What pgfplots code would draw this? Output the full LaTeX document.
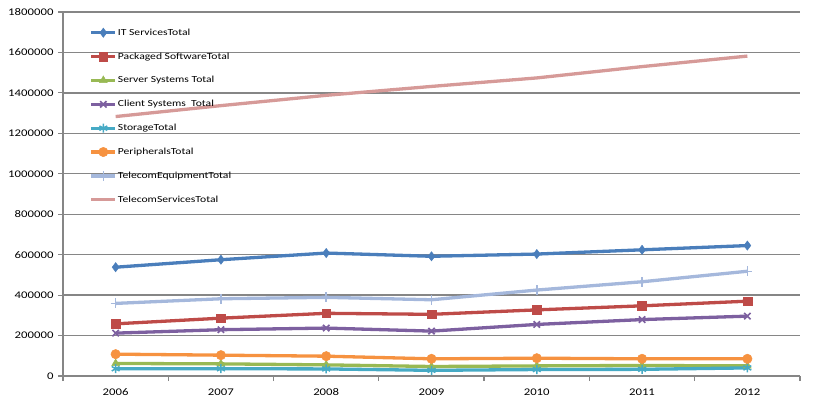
\documentclass[border=0pt]{standalone}
\usepackage{pgfplots}
\pgfplotsset{compat=1.18}
\usepackage{fontspec}
\setmainfont{Carlito}[FakeStretch=1.25]
\definecolor{c1}{HTML}{4A7EBB}
\definecolor{c2}{HTML}{BE4B48}
\definecolor{c3}{HTML}{98B954}
\definecolor{c4}{HTML}{7D60A0}
\definecolor{c5}{HTML}{46AAC5}
\definecolor{c6}{HTML}{F69240}
\definecolor{c7}{HTML}{A5B8DC}
\definecolor{c8}{HTML}{D69A98}
\definecolor{gridgray}{HTML}{868686}
\begin{document}
\begin{tikzpicture}
\path[use as bounding box] (-63pt,-37pt) rectangle (772pt,376pt);
\begin{axis}[
  at={(0,0)}, anchor=south west,
  scale only axis, width=737pt, height=364pt,
  xmin=2005.5, xmax=2012.5,
  ymin=0, ymax=1800000,
  xtick={2006,...,2012},
  major x tick style={draw=none},
  minor xtick={2005.5,2006.5,...,2012.5},
  minor x tick style={gridgray, line width=1.2pt},
  minor tick length=5pt,
  ytick={0,200000,...,1800000},
  major y tick style={gridgray, line width=1.2pt},
  major tick length=5pt,
  tick align=outside,
  axis lines*=left,
  axis line style={gridgray, line width=1.5pt},
  ymajorgrids,
  major grid style={gridgray, line width=1.3pt},
  scaled y ticks=false,
  /pgf/number format/.cd, fixed, precision=0, 1000 sep={}, assume math mode=true, /pgfplots/.cd,
  tick label style={font=\fontsize{10.2}{11}\selectfont, black},
  yticklabel style={xshift=-1pt},
  xticklabel style={yshift=-4pt},
  legend cell align=left,
  legend style={draw=none, fill=none, at={(rel axis cs:0.036,0.96)}, anchor=north west,
    font=\fontsize{9.3}{10}\selectfont, row sep=11.9pt, inner sep=0pt,
    nodes={inner xsep=1pt}},
  legend image code/.code={\draw[mark repeat=2,mark phase=2] plot coordinates {(0cm,0cm) (0.42cm,0cm) (0.84cm,0cm)};},
  every axis plot/.append style={line width=3.3pt},
]
\addplot[c1, mark=diamond*, mark size=4.6pt, mark options={line width=0.5pt}] coordinates {
(2006,538000) (2007,575000) (2008,608000) (2009,592000) (2010,603000) (2011,624000) (2012,645000)};
\addlegendentry{IT ServicesTotal}
\addplot[c2, mark=square*, mark size=4.4pt, mark options={line width=0.5pt}] coordinates {
(2006,258000) (2007,286000) (2008,310000) (2009,305000) (2010,327000) (2011,347000) (2012,370000)};
\addlegendentry{Packaged SoftwareTotal}
\addplot[c3, mark=triangle*, mark size=4.5pt, mark options={line width=0.5pt}] coordinates {
(2006,62000) (2007,60000) (2008,55000) (2009,47000) (2010,50000) (2011,52000) (2012,50000)};
\addlegendentry{Server Systems Total}
\addplot[c4, mark=x, mark size=4.5pt, mark options={line width=1.7pt}] coordinates {
(2006,212000) (2007,229000) (2008,237000) (2009,222000) (2010,255000) (2011,279000) (2012,296000)};
\addlegendentry{Client Systems\ \ Total}
\addplot[c5, mark=asterisk, mark size=4.5pt, mark options={line width=1.5pt}] coordinates {
(2006,36000) (2007,36000) (2008,35000) (2009,28000) (2010,32000) (2011,33000) (2012,40000)};
\addlegendentry{StorageTotal}
\addplot[c6, mark=*, mark size=4.7pt, mark options={line width=0.5pt}] coordinates {
(2006,108000) (2007,103000) (2008,98000) (2009,85000) (2010,88000) (2011,85000) (2012,85000)};
\addlegendentry{PeripheralsTotal}
\addplot[c7, mark=+, mark size=5pt, mark options={line width=1.5pt}] coordinates {
(2006,359000) (2007,382000) (2008,389000) (2009,377000) (2010,425000) (2011,466000) (2012,518000)};
\addlegendentry{TelecomEquipmentTotal}
\addplot[c8, no marks] coordinates {
(2006,1283000) (2007,1337000) (2008,1388000) (2009,1432000) (2010,1474000) (2011,1530000) (2012,1582000)};
\addlegendentry{TelecomServicesTotal}
\end{axis}
\end{tikzpicture}
\end{document}
